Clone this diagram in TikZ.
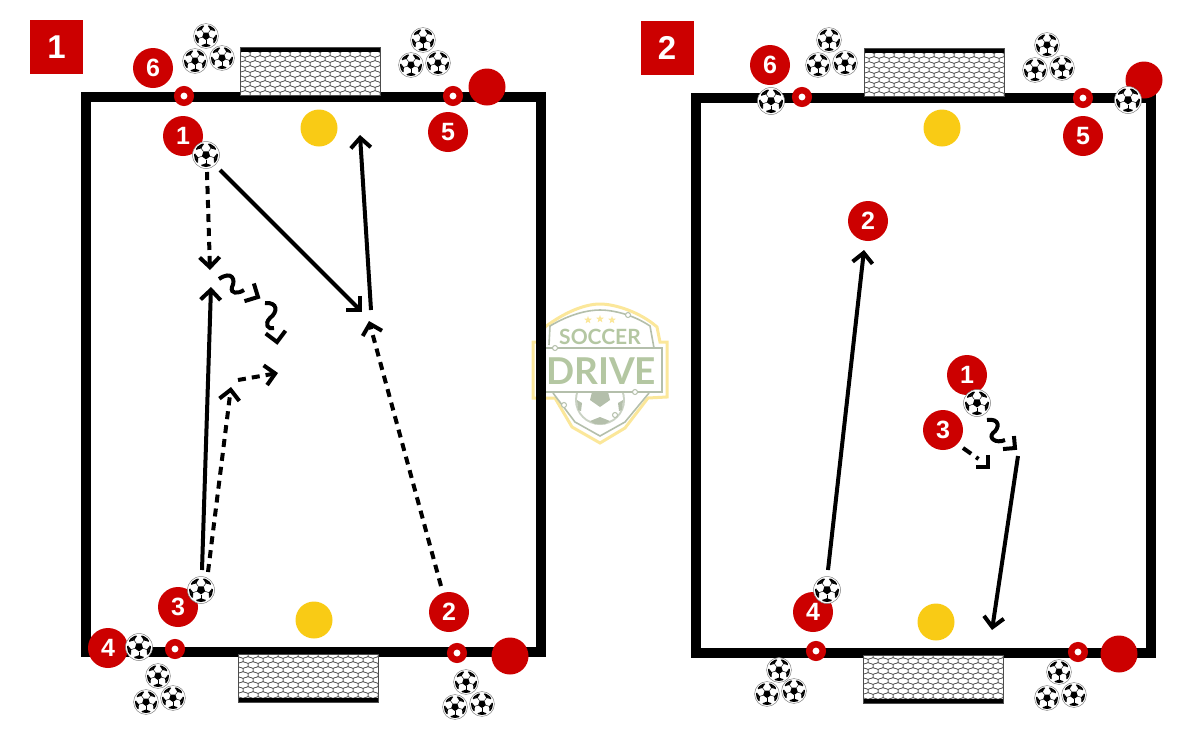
\documentclass[tikz,border=0pt]{standalone}
\usepackage{fontspec}
\setmainfont{Liberation Sans}
\newfontfamily\logofont{Lato}
\usetikzlibrary{arrows.meta,positioning,shapes.geometric,calc}

\definecolor{drillred}{HTML}{CC0000}
\definecolor{conegold}{HTML}{F9CB15}
\definecolor{logosage}{HTML}{B4C7A2}
\definecolor{logogrey}{HTML}{B4BFAB}
\definecolor{logoyellow}{HTML}{FBE79A}

\tikzset{
  ball/.pic={
    \fill[white] (0,0) circle (13.5pt);
    \draw[gray, line width=.5pt] (0,0) circle (13.5pt);
    \begin{scope}
      \clip (0,0) circle (12pt);
      \foreach \a in {18,90,162,234,306} {
        \draw[black, line width=.45pt] (\a:4.5) -- (\a:9);
        \fill[black] (\a+26:11) -- (\a-26:11) -- (\a-14:14) -- (\a+14:14) -- cycle;
        \fill[black] (\a:8.2) -- (\a+25:11) -- (\a-25:11) -- cycle;
      }
    \end{scope}
    \fill[black] (18:4.4) -- (90:4.4) -- (162:4.4) -- (234:4.4) -- (306:4.4) -- cycle;
  },
  chev/.pic={
    \draw[black, line width=4pt, miter limit=10] (-10,-10) -- (0,0) -- (-10,10);
  },
  net/.pic={
    \fill[white] (0,0) rectangle (140.5,48);
    \begin{scope}
      \clip (0,0) rectangle (140.5,48);
      \foreach \j in {0,...,9} {
        \pgfmathsetmacro{\off}{mod(\j,2)*5}
        \foreach \i in {0,...,14} {
          \draw[black!70, line width=.5pt] ({\i*10+\off},{\j*5+2}) ++(0,-3.3) -- ++(5,1.65) -- ++(0,3.3)
            -- ++(-5,1.65) -- ++(-5,-1.65) -- ++(0,-3.3) -- cycle;
        }
      }
    \end{scope}
    \fill[black] (0,0) rectangle (140.5,4.5);
    \draw[black!70, line width=.7pt] (0,0) rectangle (140.5,48);
  }
}

\begin{document}
\begin{tikzpicture}[x=1pt, y=-1pt, >={Straight Barb[length=10pt,width=20pt]},
  player/.style={circle, fill=drillred, text=white, minimum size=40pt, inner sep=0pt,
    font=\fontsize{25}{25}\selectfont\bfseries},
  coach/.style={circle, fill=drillred, minimum size=37pt, inner sep=0pt},
  ringnode/.style={circle, draw=drillred, fill=white, line width=6.5pt, minimum size=13.5pt, inner sep=0pt},
  cone/.style={circle, fill=conegold, minimum size=37pt, inner sep=0pt},
  tag/.style={fill=drillred, text=white, minimum width=53pt, minimum height=54pt, inner sep=0pt,
    font=\fontsize{33}{33}\selectfont\bfseries},
  wall/.style={draw=black, line width=10pt, miter limit=10},
  pass/.style={->, black, line width=4pt},
  run/.style={->, black, line width=4pt, dash pattern=on 8pt off 6pt},
  dribble/.style={black, line width=4pt}]
  \useasboundingbox (0,0) rectangle (1200,750);

  % logo
  \draw[logoyellow, line width=3pt, fill=white] (545,327) .. controls (565,312) and (585,304) .. (600,304)
    .. controls (615,304) and (640,312) .. (657,327) -- (660,342) -- (667,342) -- (667,397) -- (648,398)
    -- (625,428) -- (600,443) -- (572,427) -- (555,398) -- (533,398) -- (533,342) -- (540,342) -- cycle;
  \draw[logogrey, line width=1.6pt] (549,345) -- (550,326) .. controls (570,314) and (588,310) .. (600,310)
    .. controls (612,310) and (632,314) .. (650,326) -- (654,348);
  \draw[logogrey, line width=1.6pt] (553,393) -- (575,422) -- (600,436) -- (625,422) -- (649,393);
  \begin{scope}
    \clip (560,392) rectangle (640,430);
    \fill[logogrey!70] (600,400) circle (25pt);
    \fill[white] (600,400) circle (23pt);
    \fill[logogrey] (592,392) -- (608,392) -- (610,400) -- (600,407) -- (590,400) -- cycle;
    \fill[logogrey] (590,421) -- (600,417) -- (610,421) -- (605,424) -- (595,424) -- cycle;
    \fill[logogrey] (577,400) -- (582,403) -- (581,411) -- (578,410) -- cycle;
    \fill[logogrey] (623,400) -- (618,403) -- (619,411) -- (622,410) -- cycle;
  \end{scope}
  \draw[logogrey, line width=1.6pt, fill=white] (545,348) rectangle (662,392);
  \foreach \x/\y/\n in {628/315/a,555/348/b,635/392/c,564/405/d,615/415/e} {
    \node[circle, draw=logogrey, fill=white, line width=1pt, minimum size=5pt, inner sep=0pt] (dot\n) at (\x,\y) {};
  }
  \foreach \x/\y/\n in {588/320/a,600/319/b,612/320/c} {
    \node[star, star points=5, star point ratio=2.4, fill=logoyellow, minimum size=8pt, inner sep=0pt] (star\n) at (\x,\y) {};
  }
  \node[text=logosage, font=\logofont\fontsize{21}{21}\selectfont\bfseries] (soccer) at (600,337) {SOCCER};
  \node[text=logosage, font=\logofont\fontsize{37}{37}\selectfont\bfseries] (drive) at (601,371) {DRIVE};

  % pitches
  \draw[wall] (86,97) rectangle (541,652);
  \draw[wall] (696,98) rectangle (1151,653);

  \pic at (240,47) {net};
  \pic[yscale=-1] at (238,702) {net};
  \pic at (864,48) {net};
  \pic[yscale=-1] at (863,703) {net};

  \node[tag] (tagA) at (56.5,47) {1};
  \node[tag] (tagB) at (667,48) {2};

  % loose balls
  \foreach \x/\y in {206/36,195/61,222/58,423/40,411/65,438/63,158/676,146/702,173/698,466/682,455/707,482/704,
    829/40,818/65,845/63,1047/45,1035/70,1062/68,779/670,767/694,794/691,1059/672,1047/698,1074/695} {
    \pic[scale=.92] at (\x,\y) {ball};
  }

  % cones
  \node[cone] (coneA) at (319,128) {};
  \node[cone] (coneB) at (314,620) {};
  \node[cone] (coneC) at (942,128) {};
  \node[cone] (coneD) at (936,622) {};

  % first panel
  \node[ringnode] (ringA) at (184,96) {};
  \node[ringnode] (ringB) at (453,96) {};
  \node[ringnode] (ringC) at (175,649) {};
  \node[ringnode] (ringD) at (457,653) {};
  \node[coach] (coachA) at (487,87) {};
  \node[coach] (coachB) at (510,656) {};
  \node[player] (pOne) at (183,136) {1};
  \node[player] (pTwo) at (449,612) {2};
  \node[player] (pThree) at (178,607) {3};
  \node[player] (pFour) at (108,648) {4};
  \node[player] (pFive) at (448,132) {5};
  \node[player] (pSix) at (153,68) {6};
  \pic at (206,155) {ball};
  \pic at (201,590) {ball};
  \pic at (139,647) {ball};

  \coordinate (Aa) at (207,172);
  \coordinate (Ab) at (210,270);
  \coordinate (Ac) at (220,170);
  \coordinate (Ad) at (362,312);
  \coordinate (Ae) at (371,310);
  \coordinate (Af) at (360,135);
  \coordinate (Ag) at (202,570);
  \coordinate (Ah) at (211,287);
  \coordinate (Ai) at (208,572);
  \coordinate (Aj) at (231,387);
  \coordinate (Ak) at (238,380);
  \coordinate (Al) at (278,373);
  \coordinate (Am) at (441,586);
  \coordinate (An) at (369,321);

  \draw[run] (Aa) -- (Ab);
  \draw[pass] (Ac) -- (Ad);
  \draw[pass] (Ae) -- (Af);
  \draw[pass] (Ag) -- (Ah);
  \draw[run] (Ai) -- (Aj);
  \draw[run] (Ak) -- (Al);
  \draw[run] (Am) -- (An);
  \draw[dribble] (219,279) .. controls (232,270) and (236,280) .. (232,287)
    .. controls (230,294) and (238,294) .. (244,290);
  \pic[rotate=-28] at (258,297) {chev};
  \draw[dribble] (265,303) .. controls (278,302) and (278,312) .. (270,318)
    .. controls (264,324) and (268,330) .. (274,328);
  \pic[rotate=-82] at (277,342) {chev};

  % second panel
  \node[ringnode] (ringE) at (802,97) {};
  \node[ringnode] (ringF) at (1083,98) {};
  \node[ringnode] (ringG) at (816,651) {};
  \node[ringnode] (ringH) at (1078,652) {};
  \node[coach] (coachC) at (1144,80) {};
  \node[coach] (coachD) at (1119,654) {};
  \node[player] (qOne) at (967,375) {1};
  \node[player] (qTwo) at (868,221) {2};
  \node[player] (qThree) at (943,430) {3};
  \node[player] (qFour) at (813,612) {4};
  \node[player] (qFive) at (1083,136) {5};
  \node[player] (qSix) at (770,65) {6};
  \pic at (771,101) {ball};
  \pic at (1128,100) {ball};
  \pic at (827,590) {ball};
  \pic at (977,403) {ball};

  \coordinate (Ba) at (828,570);
  \coordinate (Bb) at (864,250);
  \coordinate (Bc) at (1018,456);
  \coordinate (Bd) at (992,630);
  \coordinate (Be) at (963,448);
  \coordinate (Bf) at (980,460);

  \draw[pass] (Ba) -- (Bb);
  \draw[pass] (Bc) -- (Bd);
  \draw[black, line width=4pt, dash pattern=on 10pt off 6pt on 3pt off 6pt] (Be) -- (Bf);
  \pic[rotate=-45, scale=.85] at (988,467) {chev};
  \draw[dribble] (987,420) .. controls (1000,418) and (1000,428) .. (993,433)
    .. controls (988,438) and (996,444) .. (1005,440);
  \pic[rotate=-40, scale=.85] at (1015,448) {chev};
\end{tikzpicture}
\end{document}
